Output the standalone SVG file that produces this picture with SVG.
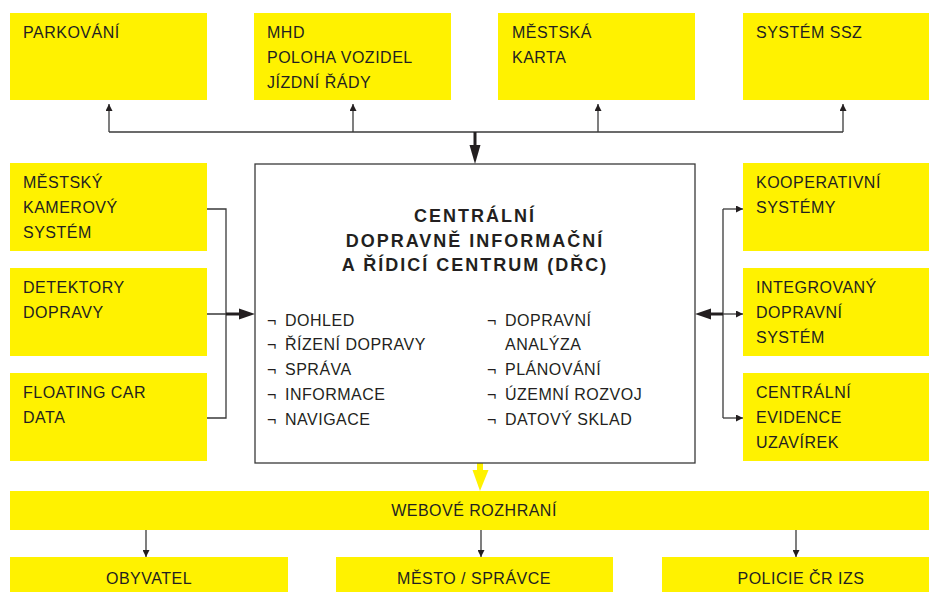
<svg xmlns="http://www.w3.org/2000/svg" width="929" height="592" viewBox="0 0 929 592">
<defs>
<style>
.box{fill:#FFF200}
.t{font-family:"Liberation Sans",Arial,sans-serif;font-size:16px;letter-spacing:0.5px;fill:#231F20}
.c{text-anchor:middle}
.title{font-family:"Liberation Sans",Arial,sans-serif;font-size:18px;font-weight:bold;fill:#231F20;text-anchor:middle;letter-spacing:2px}
.ln{fill:none;stroke:#3a3a3a;stroke-width:1.3}
</style>
<marker id="ah" viewBox="0 0 10 10" refX="10" refY="5" markerWidth="7" markerHeight="7" markerUnits="userSpaceOnUse" orient="auto"><path d="M0,0 L10,5 L0,10 z" fill="#231F20"/></marker>
</defs>
<rect width="929" height="592" fill="#fff"/>

<g id="connectors">
<path class="ln" d="M109,132 H843"/>
<path class="ln" d="M109,132 V104" marker-end="url(#ah)"/>
<path class="ln" d="M353,132 V104" marker-end="url(#ah)"/>
<path class="ln" d="M598,132 V104" marker-end="url(#ah)"/>
<path class="ln" d="M843,132 V104" marker-end="url(#ah)"/>
<path d="M475,132 V146" stroke="#231F20" stroke-width="3"/>
<path d="M469.5,145 L480.5,145 L475,164 z" fill="#231F20"/>

<path class="ln" d="M207,209 H226 V418 H207 M207,314 H226"/>
<path d="M226,314 H240" stroke="#231F20" stroke-width="3"/>
<path d="M239,308.5 L255,314 L239,319.5 z" fill="#231F20"/>

<path class="ln" d="M723,209 V418"/>
<path class="ln" d="M723,209 H743" marker-end="url(#ah)"/>
<path class="ln" d="M723,314 H743" marker-end="url(#ah)"/>
<path class="ln" d="M723,418 H743" marker-end="url(#ah)"/>
<path d="M723,314 H710" stroke="#231F20" stroke-width="3"/>
<path d="M711,308.5 L695,314 L711,319.5 z" fill="#231F20"/>

<path d="M480,463 V471" stroke="#FFF200" stroke-width="6"/>
<path d="M472.5,470 L488.5,470 L480,491 z" fill="#FFF200"/>

<path class="ln" d="M146,530 V557" marker-end="url(#ah)"/>
<path class="ln" d="M481,530 V557" marker-end="url(#ah)"/>
<path class="ln" d="M796,530 V557" marker-end="url(#ah)"/>
</g>

<g id="parkovani"><rect class="box" x="10" y="13" width="197" height="87"/><text class="t" x="23" y="38">PARKOVÁNÍ</text></g>
<g id="mhd"><rect class="box" x="254" y="13" width="197" height="87"/><text class="t" x="267" y="38">MHD</text><text class="t" x="267" y="63">POLOHA VOZIDEL</text><text class="t" x="267" y="88">JÍZDNÍ ŘÁDY</text></g>
<g id="mestska-karta"><rect class="box" x="498" y="13" width="197" height="87"/><text class="t" x="512" y="38">MĚSTSKÁ</text><text class="t" x="512" y="63">KARTA</text></g>
<g id="ssz"><rect class="box" x="743" y="13" width="197" height="87"/><text class="t" x="756" y="38">SYSTÉM SSZ</text></g>

<g id="kamerovy"><rect class="box" x="10" y="163" width="197" height="88"/><text class="t" x="23" y="188">MĚSTSKÝ</text><text class="t" x="23" y="213">KAMEROVÝ</text><text class="t" x="23" y="238">SYSTÉM</text></g>
<g id="detektory"><rect class="box" x="10" y="268" width="197" height="88"/><text class="t" x="23" y="293">DETEKTORY</text><text class="t" x="23" y="318">DOPRAVY</text></g>
<g id="fcd"><rect class="box" x="10" y="373" width="197" height="88"/><text class="t" x="23" y="398">FLOATING CAR</text><text class="t" x="23" y="423">DATA</text></g>

<g id="kooperativni"><rect class="box" x="743" y="163" width="197" height="88"/><text class="t" x="756" y="188">KOOPERATIVNÍ</text><text class="t" x="756" y="213">SYSTÉMY</text></g>
<g id="ids"><rect class="box" x="743" y="268" width="197" height="88"/><text class="t" x="756" y="293">INTEGROVANÝ</text><text class="t" x="756" y="318">DOPRAVNÍ</text><text class="t" x="756" y="343">SYSTÉM</text></g>
<g id="uzavirky"><rect class="box" x="743" y="373" width="197" height="88"/><text class="t" x="756" y="398">CENTRÁLNÍ</text><text class="t" x="756" y="423">EVIDENCE</text><text class="t" x="756" y="448">UZAVÍREK</text></g>

<g id="drc">
<rect x="255" y="164" width="440" height="299" fill="#fff" stroke="#3a3a3a" stroke-width="1.3"/>
<text class="title" x="475" y="222">CENTRÁLNÍ</text>
<text class="title" x="475" y="247">DOPRAVNĚ INFORMAČNÍ</text>
<text class="title" x="475" y="271">A ŘÍDICÍ CENTRUM (DŘC)</text>
<g class="t">
<text x="267" y="326">¬</text><text x="285" y="326">DOHLED</text>
<text x="267" y="350">¬</text><text x="285" y="350">ŘÍZENÍ DOPRAVY</text>
<text x="267" y="375">¬</text><text x="285" y="375">SPRÁVA</text>
<text x="267" y="400">¬</text><text x="285" y="400">INFORMACE</text>
<text x="267" y="425">¬</text><text x="285" y="425">NAVIGACE</text>
<text x="487" y="326">¬</text><text x="505" y="326">DOPRAVNÍ</text>
<text x="505" y="350">ANALÝZA</text>
<text x="487" y="375">¬</text><text x="505" y="375">PLÁNOVÁNÍ</text>
<text x="487" y="400">¬</text><text x="505" y="400">ÚZEMNÍ ROZVOJ</text>
<text x="487" y="425">¬</text><text x="505" y="425">DATOVÝ SKLAD</text>
</g>
</g>

<g id="webove-rozhrani"><rect class="box" x="10" y="491" width="930" height="39"/><text class="t c" x="474" y="516">WEBOVÉ ROZHRANÍ</text></g>
<g id="obyvatel"><rect class="box" x="10" y="557" width="278" height="40"/><text class="t c" x="149" y="584">OBYVATEL</text></g>
<g id="mesto"><rect class="box" x="336" y="557" width="277" height="40"/><text class="t c" x="474" y="584">MĚSTO / SPRÁVCE</text></g>
<g id="policie"><rect class="box" x="662" y="557" width="278" height="40"/><text class="t c" x="801" y="584">POLICIE ČR IZS</text></g>
</svg>
